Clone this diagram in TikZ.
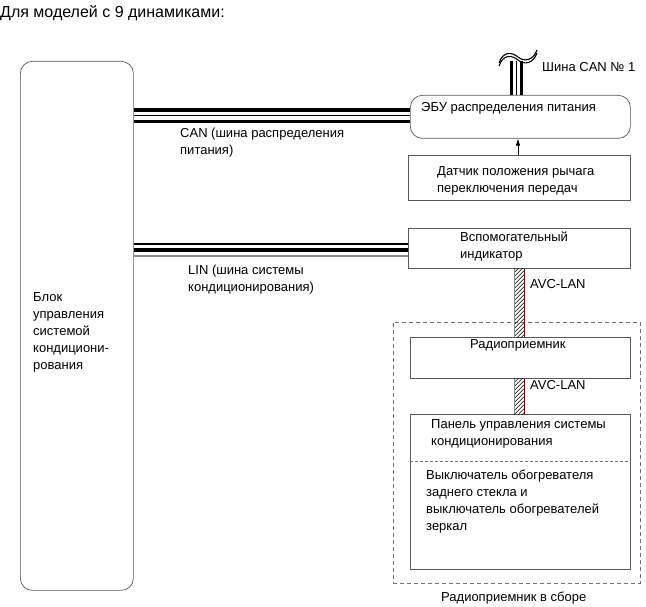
\documentclass[tikz,border=0pt]{standalone}
\usepackage{fontspec}
\setmainfont{Liberation Sans}
\usetikzlibrary{arrows.meta,calc}
\begin{document}
\begin{tikzpicture}[x=1pt,y=-1pt,
  lbl/.style={font=\fontsize{13}{17}\selectfont, anchor=north west, inner sep=0pt, align=left},
  box/.style={draw=black!65, line width=0.7pt, fill=white, anchor=north west, inner sep=0pt},
  thickw/.style={line width=3.4pt, black},
  thinw/.style={line width=1pt, black},
]
\useasboundingbox (0,0) rectangle (646,607);

% title
\node[lbl, font=\fontsize{16}{19}\selectfont] (title) at (0,5.5) {Для моделей с 9 динамиками:};

% left block
\node[box, rounded corners=12pt, minimum width=113pt, minimum height=529pt] (acu) at (20,61) {};
\node[lbl] (acut) at (33,292.5) {Блок\\управления\\системой\\кондициони-\\рования};

% power ECU
\node[box, rounded corners=12pt, minimum width=220pt, minimum height=43pt] (ecu) at (410,95) {};
\node[lbl] (ecut) at (421,102) {ЭБУ распределения питания};

% sensor
\node[box, minimum width=222pt, minimum height=45pt] (sens) at (408,155) {};
\node[lbl] (senst) at (437,166.5) {Датчик положения рычага\\переключения передач};

% aux indicator
\node[box, minimum width=222pt, minimum height=40pt] (aux) at (408,228) {};
\node[lbl] (auxt) at (460,231.5) {Вспомогательный\\индикатор};

% radio assembly dashed frame
\node[draw=black!55, dashed, dash pattern=on 4pt off 3pt, line width=0.6pt, anchor=north west, inner sep=0pt,
      minimum width=247pt, minimum height=261pt] (asm) at (393,322) {};
\node[lbl] (asmt) at (441,591.5) {Радиоприемник в сборе};

% radio
\node[box, minimum width=220pt, minimum height=41pt] (radio) at (410,337) {};
\node[lbl] (radiot) at (470,339.5) {Радиоприемник};

% panel
\node[box, minimum width=220pt, minimum height=155pt] (panel) at (410,414) {};
\draw[black!55, dashed, dash pattern=on 3pt off 2pt, line width=0.5pt] (panel.west |- 0,461) coordinate (sepl) -- (panel.east |- 0,461) coordinate (sepr);
\node[lbl] (panelt) at (431,419) {Панель управления системы\\кондиционирования};
\node[lbl] (swt) at (426,470) {Выключатель обогревателя\\заднего стекла и\\выключатель обогревателей\\зеркал};

% CAN bus between ACU and ECU
\coordinate (ya) at (0,110);
\coordinate (yb) at (0,116);
\coordinate (yc) at (0,121.5);
\draw[thickw] (acu.east |- ya) -- (ecu.west |- ya);
\draw[thinw] (acu.east |- yb) -- (ecu.west |- yb);
\draw[thickw] (acu.east |- yc) -- (ecu.west |- yc);
\node[lbl] (cant) at (180,127.5) {CAN (шина распределения\\питания)};

% LIN bus
\coordinate (yd) at (0,244);
\coordinate (ye) at (0,250);
\coordinate (yf) at (0,256);
\draw[line width=1.2pt] (acu.east |- yd) -- (aux.west |- yd);
\draw[line width=4pt] (acu.east |- ye) -- (aux.west |- ye);
\draw[line width=2pt, black!45] (acu.east |- yf) -- (aux.west |- yf);
\node[lbl] (lint) at (188,264.5) {LIN (шина системы\\кондиционирования)};

% CAN No 1 to ECU
\coordinate (w1) at (511.5,61);
\coordinate (w2) at (516.5,61);
\coordinate (w3) at (521.5,61);
\draw[thickw, line width=3pt] (w1) -- (w1 |- ecu.north);
\draw[thinw] (w2) -- (w2 |- ecu.north);
\draw[thickw, line width=3pt] (w3) -- (w3 |- ecu.north);
\draw[line width=1.1pt] (499,66) .. controls (503,54) and (512,55) .. (518,60) .. controls (524,65) and (533,64) .. (537,53);
\draw[line width=1.1pt] (499,63) .. controls (503,51) and (512,52) .. (518,57) .. controls (524,62) and (533,61) .. (537,50);
\node[lbl] (can1t) at (542,62.5) {Шина CAN № 1};

% sensor -> ECU arrow
\draw[-{Latex[length=7pt,width=4.5pt]}, line width=0.6pt] (sens.north -| 518,0) coordinate (sa) -- (sa |- ecu.south);

% AVC-LAN links
\coordinate (h1) at (514,0);
\coordinate (h2) at (524,0);
\foreach \ta/\tb in {aux/radio, radio/panel} {
  \begin{scope}
    \clip (h1 |- \ta.south) rectangle (h2 |- \tb.north);
    \foreach \k in {-20,-16,...,120} {
      \draw[line width=0.5pt] ($(h1 |- \ta.south)+(0,\k)$) -- ++(10,-10);
    }
  \end{scope}
  \draw[black!45, line width=0.9pt] (h1 |- \ta.south) -- (h1 |- \tb.north);
  \draw[red!40!black, line width=0.9pt] (h2 |- \ta.south) -- (h2 |- \tb.north);
}
\node[lbl] (avc1) at (530,279.5) {AVC-LAN};
\node[lbl] (avc2) at (530,380.5) {AVC-LAN};
\end{tikzpicture}
\end{document}
